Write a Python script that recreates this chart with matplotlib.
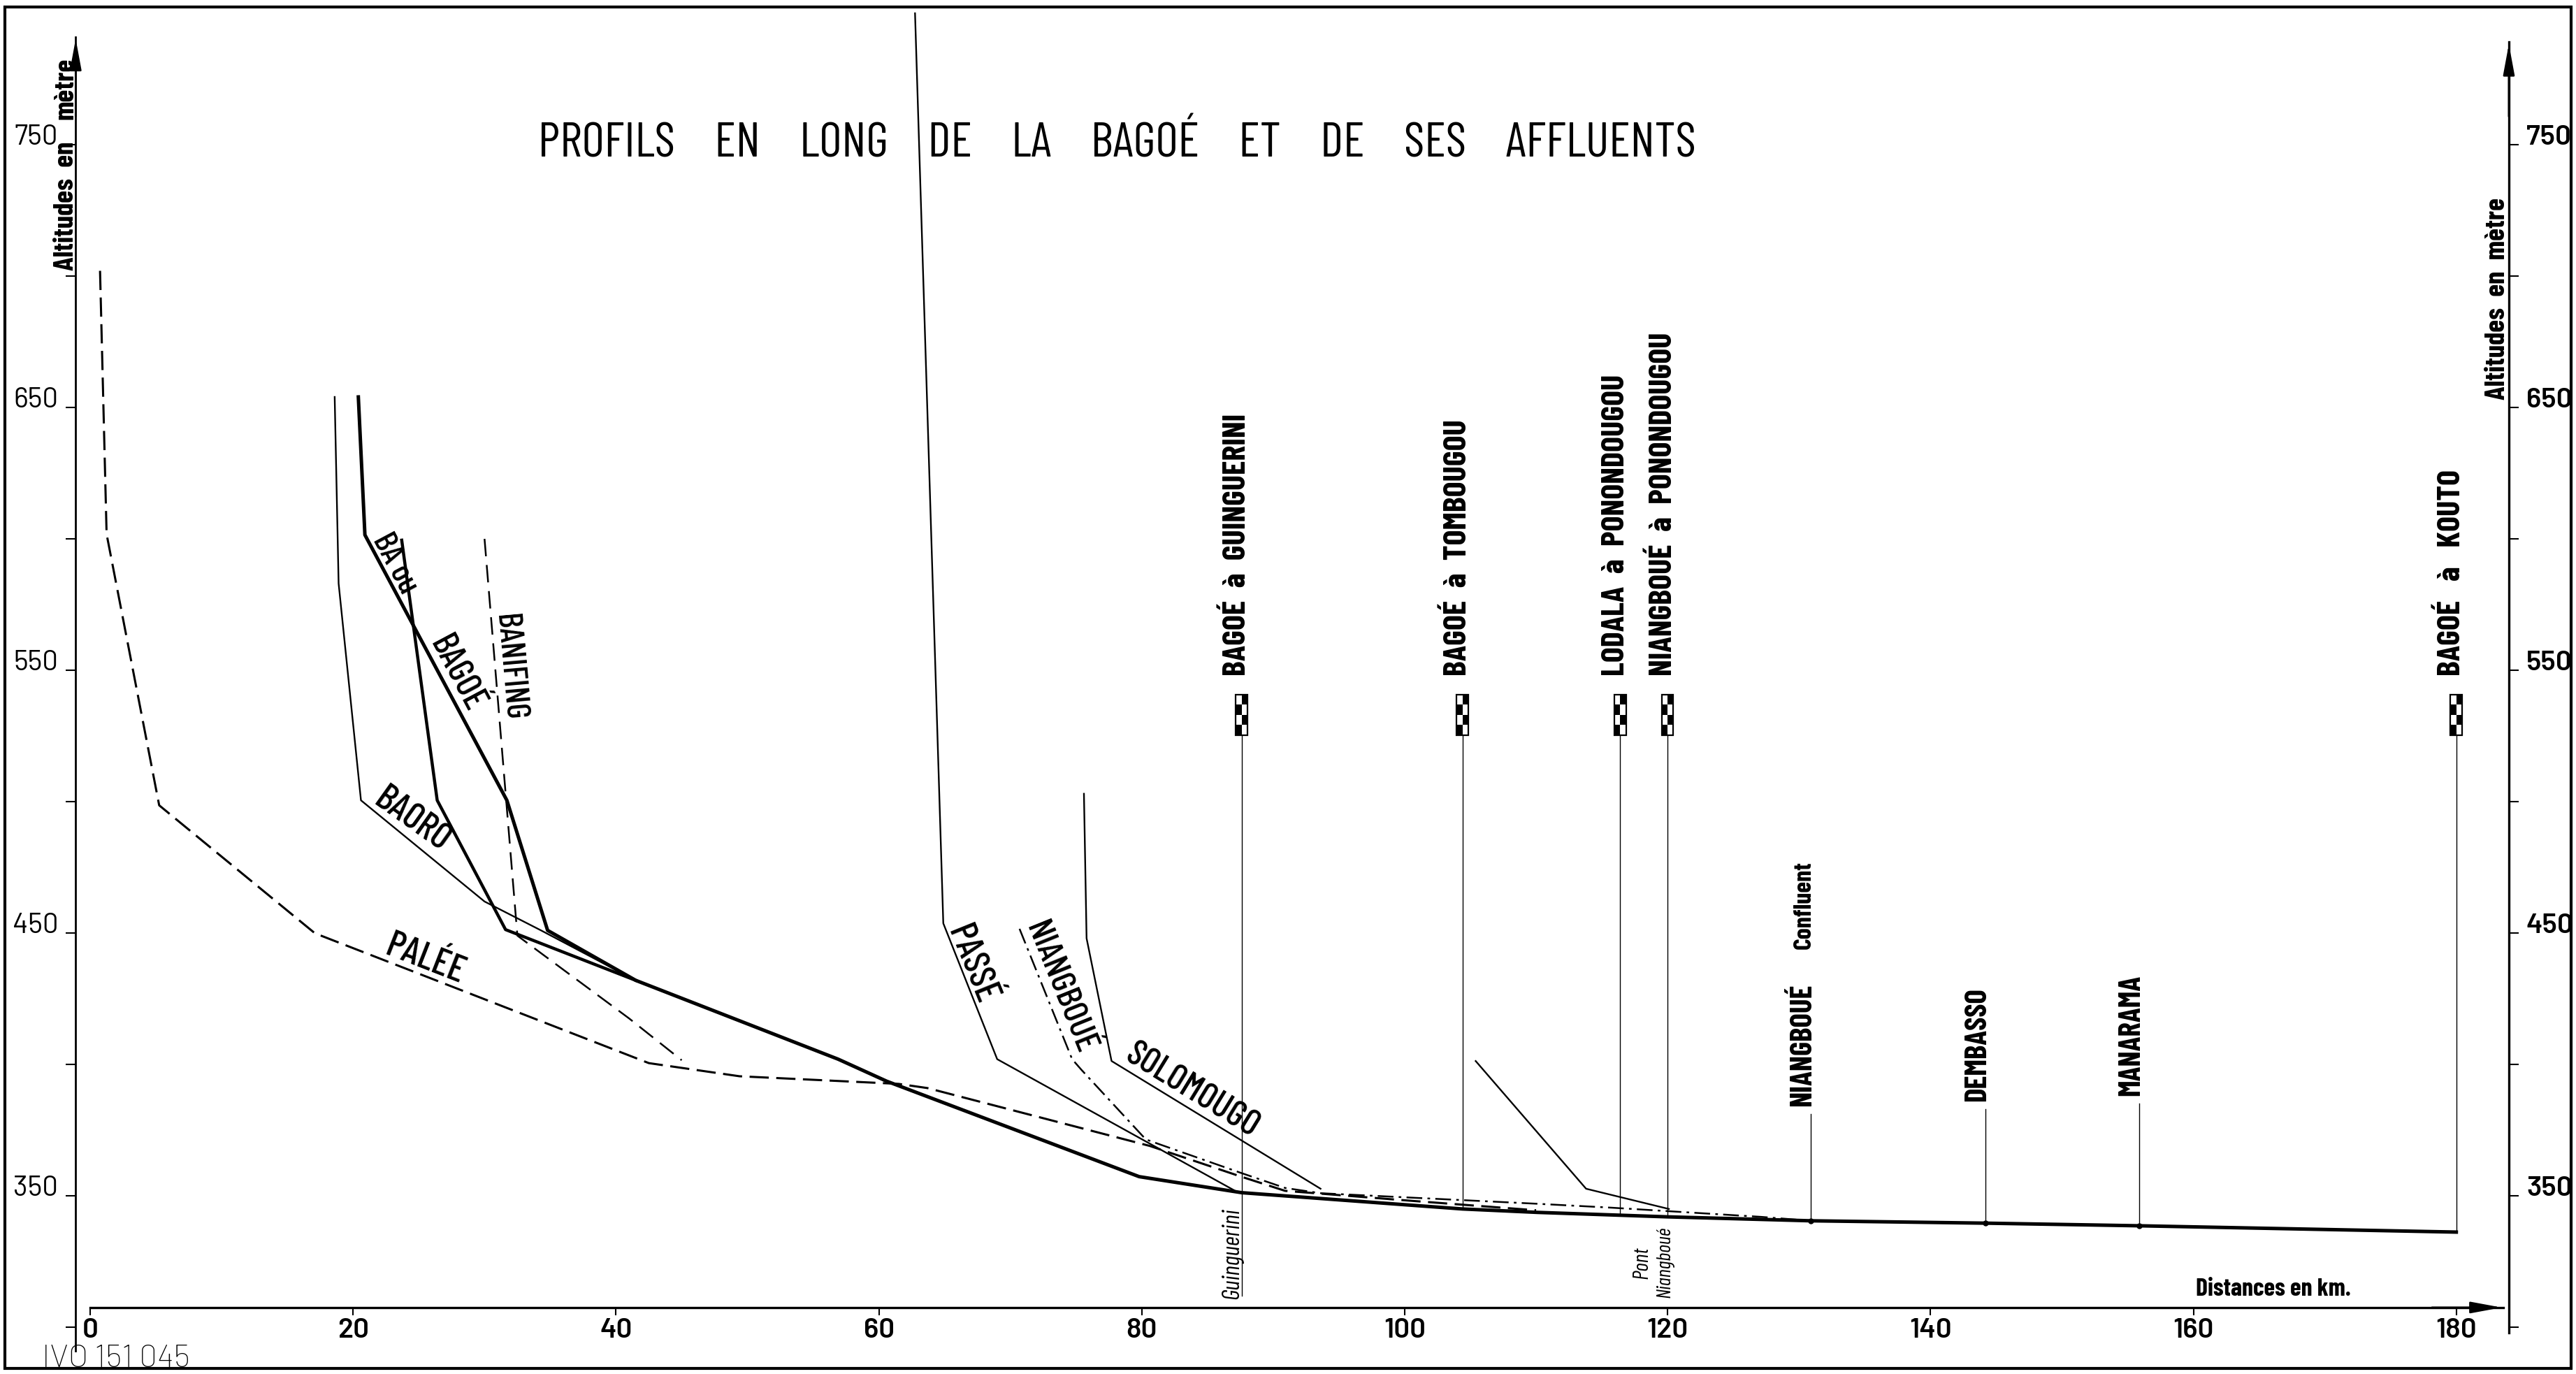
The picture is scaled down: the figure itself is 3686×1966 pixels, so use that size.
import matplotlib
matplotlib.use("Agg")
from matplotlib import pyplot as plt
from matplotlib.patches import Rectangle
import numpy as np

# profils en long : distance (km) / altitude (m)
bagoe_km = [20.4, 20.9, 31.7, 34.8, 41.5, 56.9, 60.6, 79.8, 87.6, 99.5, 104.4, 110.1, 120.0, 130.9, 144.2, 155.9, 180.0]
bagoe_alt = [654, 601.5, 500.5, 451, 432, 402, 393.6, 357.3, 351.2, 346.8, 345, 343.7, 342, 340.5, 339.6, 338.6, 336.2]

baou_km = [23.7, 26.4, 31.6, 41.5]
baou_alt = [599.5, 500.5, 451.3, 432]

baoro_km = [18.6, 18.9, 20.6, 30.0, 34.3, 41.5]
baoro_alt = [654, 583, 500.5, 462, 451, 432]

banifing_km = [30.0, 32.5, 41.0, 45.0]
banifing_alt = [600, 449, 417.5, 401.6]

palee_km = [0.75, 1.25, 5.25, 17.1, 42.5, 49.4, 61.5, 63.7, 80.6, 87.5, 90.9, 100, 110]
palee_alt = [702, 601.8, 498.6, 449.9, 400.5, 395.5, 392.6, 391, 369, 357.4, 351.9, 348.3, 344.5]

passe_km = [62.75, 64.9, 69.0, 87.1]
passe_alt = [800, 453.7, 402, 351.9]

niangboue_km = [70.7, 74.7, 75.4, 80.3, 81.3, 87.5, 90.9, 93.6, 110, 115.7, 127.1, 130.9]
niangboue_alt = [451.6, 402, 398, 371.5, 369.7, 358.8, 353, 351, 347, 345.5, 342, 340.5]

solomougo_km = [75.6, 75.8, 77.7, 93.6]
solomougo_alt = [503, 448, 401.3, 352.7]

lodala_km = [105.4, 113.8, 120.1]
lodala_alt = [401.3, 352.7, 345]

# stations avec echelle
echelle_km = [87.6, 104.4, 116.4, 120.0, 180.0]
echelle_noms = ["BAGOÉ  à  GUINGUERINI", "BAGOÉ  à  TOMBOUGOU", "LODALA  à  PONONDOUGOU",
                "NIANGBOUÉ  à  PONONDOUGOU", "BAGOÉ   à   KOUTO"]
echelle_long = [360, 383, 423, 472, 313]   # longueur du texte en pixels

# points sur le cours principal
points_km = [130.9, 144.2, 155.9]
points_noms = ["NIANGBOUÉ", "DEMBASSO", "MANARAMA"]
points_haut = [381, 383, 385]
points_long = [172, 168, 172]

alt_ticks = [300, 350, 400, 450, 500, 550, 600, 650, 700, 750]
alt_labels = ["", "350", "", "450", "", "550", "", "650", "", "750"]
km_ticks = [0, 20, 40, 60, 80, 100, 120, 140, 160, 180]

COND = ["Barlow Condensed", "Roboto Condensed", "Liberation Sans Narrow", "DejaVu Sans"]
NORM = ["Barlow", "Roboto", "DejaVu Sans"]
plt.rcParams["font.family"] = COND

fig = plt.figure(figsize=(36.87, 19.66), dpi=100)
ax = fig.add_axes([0, 0, 1, 1])
ax.set_xlim(-6.86, 189.16)
ax.set_ylim(282.2, 805.05)
ax.patch.set_visible(False)

# cours d'eau
ax.plot(bagoe_km, bagoe_alt, color="k", lw=3.6)
ax.plot(baou_km, baou_alt, color="k", lw=3.2)
ax.plot(baoro_km, baoro_alt, color="k", lw=1.7)
ax.plot(banifing_km, banifing_alt, color="k", lw=1.8, dashes=(10, 5))
ax.plot(palee_km, palee_alt, color="k", lw=2.2, dashes=(9, 3.5))
ax.plot(passe_km, passe_alt, color="k", lw=1.7)
ax.plot(niangboue_km, niangboue_alt, color="k", lw=1.8, dashes=(9, 3, 1.5, 3))
ax.plot(solomougo_km, solomougo_alt, color="k", lw=1.7)
ax.plot(lodala_km, lodala_alt, color="k", lw=1.7)

fits = []   # (texte, longueur cible en px, groupe)

# noms le long des profils
riv = dict(rotation_mode="anchor", ha="center", va="center", fontsize=22, fontweight="medium")
for x, y, s, rot, L in [(23.2, 590.5, "BA ou", -62, 91), (27.9, 548.5, "BAGOÉ", -62, 115),
                        (31.9, 551, "BANIFING", -85, 152), (24.5, 493, "BAORO", -35.5, 120),
                        (25.5, 440, "PALÉE", -21.3, 118), (67.1, 438, "PASSÉ", -68, 117),
                        (73.8, 429, "NIANGBOUÉ", -68, 199), (83.8, 390, "SOLOMOUGO", -31.5, 214)]:
    fits.append((ax.text(x, y, s, rotation=rot, **riv), L, None))

# stations d'echelle
for x, nom, L in zip(echelle_km, echelle_noms, echelle_long):
    base = np.interp(x, bagoe_km, bagoe_alt)
    if x == 87.6:
        base = 312
    ax.plot([x, x], [base, 525.3], color="k", lw=1.0)
    ax.add_patch(Rectangle((x - 0.44, 525.3), 0.88, 15.5, fill=False, lw=1.6, ec="k"))
    for i in range(4):
        for j in range(2):
            if (i + j) % 2 == 0:
                ax.add_patch(Rectangle((x - 0.44 + j * 0.44, 525.3 + i * 3.875), 0.44, 3.875,
                                       color="k", lw=0))
    t = ax.text(x - 0.35, 548, nom, rotation=90, ha="center", va="bottom",
                fontsize=20, fontweight="bold")
    fits.append((t, L, "station"))

for x, nom, h, L in zip(points_km, points_noms, points_haut, points_long):
    base = np.interp(x, bagoe_km, bagoe_alt)
    ax.plot([x, x], [base, h], color="k", lw=1.0)
    ax.plot(x, base, "o", color="k", ms=5)
    t = ax.text(x - 0.6, h + 3, nom, rotation=90, ha="center", va="bottom",
                fontsize=20, fontweight="bold")
    fits.append((t, L, "point"))
t = ax.text(130.4, 444, "Confluent", rotation=90, ha="center", va="bottom",
            fontsize=20, fontweight="bold")
fits.append((t, 126, None))

for x, y, s, L in [(86.9, 328, "Guinguerini", 130), (118.05, 324.5, "Pont", 46),
                   (119.8, 324.8, "Niangboué", 102)]:
    t = ax.text(x, y, s, rotation=90, ha="center", va="center", fontsize=13, style="italic")
    fits.append((t, L, None))

# axes
ax.spines["top"].set_visible(False)
ax.spines["left"].set_position(("data", -1.1))
ax.spines["left"].set_bounds(291, 791)
ax.spines["right"].set_position(("data", 184))
ax.spines["right"].set_bounds(298, 789)
ax.spines["bottom"].set_position(("data", 307.5))
ax.spines["bottom"].set_bounds(0, 183.6)
ax.spines["left"].set_linewidth(2.0)
ax.spines["right"].set_linewidth(2.4)
ax.spines["bottom"].set_linewidth(2.4)

ax.set_yticks(alt_ticks)
ax.set_yticklabels(alt_labels)
ax.yaxis.set_ticks_position("both")
ax.tick_params(axis="y", direction="out", length=10, width=1.5, labelleft=True, labelright=True,
               pad=8, labelsize=29, labelfontfamily=NORM)
for t in ax.yaxis.get_major_ticks():
    t.label1.set_va("baseline")
    t.label2.set_va("baseline")
    t.label2.set_fontweight("semibold")
    t.label2.set_fontsize(29)

ax.set_xticks(km_ticks)
ax.set_xticklabels([str(v) for v in km_ticks])
ax.tick_params(axis="x", direction="out", length=8, width=1.5, pad=3, labelsize=29,
               labelfontfamily=NORM)
for t in ax.xaxis.get_major_ticks():
    t.label1.set_fontweight("semibold")

arrow = dict(arrowstyle="-|>,head_length=1.35,head_width=0.25", color="k", lw=2, mutation_scale=20)
ax.annotate("", xy=(-1.1, 791), xytext=(-1.1, 760), arrowprops=arrow)
ax.annotate("", xy=(184, 789), xytext=(184, 760), arrowprops=arrow)
ax.annotate("", xy=(183.6, 307.5), xytext=(178, 307.5), arrowprops=arrow)

# titre d'axe gauche coupe autour de la graduation 750
t = ax.text(-1.86, 702, "Altitudes  en", rotation=90, ha="center", va="bottom",
            fontsize=18, fontweight="bold")
fits.append((t, 170, "alt"))
ax.text(-1.86, 759.5, "mètre", rotation=90, ha="center", va="bottom",
        fontsize=18, fontweight="bold")
t = ax.text(183.1, 653, "Altitudes  en  mètre", rotation=90, ha="center", va="bottom",
            fontsize=18, fontweight="bold")
fits.append((t, 290, "alt"))
t = ax.text(160.2, 310, "Distances en km.", ha="left", va="bottom", fontsize=18, fontweight="bold")
fits.append((t, 222, None))

t = ax.text(78.1, 750, "PROFILS    EN    LONG    DE    LA    BAGOÉ    ET    DE    SES    AFFLUENTS",
            ha="center", va="center", fontsize=36)
fits.append((t, 1656, None))

t = fig.text(0.0163, 0.0005, "IVO 151 045", ha="left", va="bottom", fontsize=30,
             fontweight="light", family=NORM)
fits.append((t, 212, None))

fig.patches.append(Rectangle((0.0018, 0.004), 0.996, 0.991, transform=fig.transFigure,
                             fill=False, lw=3, ec="k"))

# ajuste la taille des textes a la longueur mesuree sur l'original
fig.canvas.draw()
r = fig.canvas.get_renderer()
groups = {}
for t, L, g in fits:
    rot = t.get_rotation()
    t.set_rotation(0)
    w = t.get_window_extent(r).width
    t.set_fontsize(t.get_fontsize() * L / w)
    t.set_rotation(rot)
    if g and g != "alt":
        groups.setdefault(g, []).append(t)
for g, ts in groups.items():
    size = np.mean([t.get_fontsize() for t in ts])
    for t in ts:
        t.set_fontsize(size)
# meme corps pour les titres d'axe
alt_texts = [t for t, L, g in fits if g == "alt"]
for tt in ax.texts:
    if tt.get_text() == "mètre":
        tt.set_fontsize(alt_texts[1].get_fontsize())
alt_texts[0].set_fontsize(alt_texts[1].get_fontsize())

fig.savefig("out.png", dpi=100)
